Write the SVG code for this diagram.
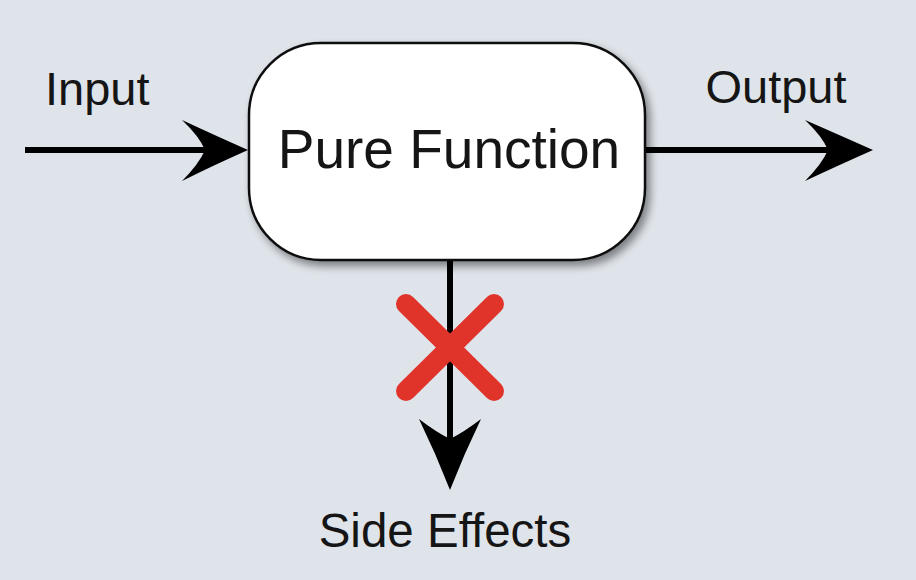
<svg xmlns="http://www.w3.org/2000/svg" width="916" height="580" viewBox="0 0 916 580">
<defs>
<style>
.lbl{font-family:"Liberation Sans",Arial,sans-serif;fill:#151515;}
.line{stroke:#000;stroke-width:6;fill:none;}
.head{fill:#000;}
</style>
<filter id="sh" x="-10%" y="-10%" width="125%" height="130%">
<feGaussianBlur in="SourceAlpha" stdDeviation="4"/>
<feOffset dx="4" dy="5" result="b"/>
<feComponentTransfer><feFuncA type="linear" slope="0.45"/></feComponentTransfer>
<feMerge><feMergeNode/><feMergeNode in="SourceGraphic"/></feMerge>
</filter>
</defs>
<rect width="916" height="580" fill="#dfe4ea"/>
<g id="connectors">
<line class="line" x1="25" y1="150" x2="215" y2="150"/>
<path class="head" d="M248,150 Q212,134 182,120 Q199,136 205,150 Q199,164 182,181 Q212,166 248,150 Z"/>
<line class="line" x1="645" y1="150" x2="840" y2="150"/>
<path class="head" d="M873,150 Q837,134 805,120 Q822,136 828,150 Q822,164 805,181 Q837,166 873,150 Z"/>
<line class="line" x1="450" y1="258" x2="450" y2="460"/>
<path class="head" d="M450,490 Q436,454 419,419 Q436,432 450,439 Q464,432 481,419 Q464,454 450,490 Z"/>
</g>
<g id="node-pure-function">
<rect x="249" y="43" width="396" height="217" rx="72" ry="72" fill="#fff" stroke="#111" stroke-width="2.5" filter="url(#sh)"/>
<text class="lbl" x="449" y="168" font-size="55" text-anchor="middle">Pure Function</text>
</g>
<g id="label-input"><text class="lbl" x="45" y="105" font-size="47">Input</text></g>
<g id="label-output"><text class="lbl" x="776" y="103" font-size="47" text-anchor="middle">Output</text></g>
<g id="label-side-effects"><text class="lbl" x="445" y="547" font-size="47.5" text-anchor="middle">Side Effects</text></g>
<g id="cross" stroke="#e0332a" stroke-width="20" stroke-linecap="round">
<line x1="406" y1="304" x2="494" y2="391"/>
<line x1="494" y1="304" x2="406" y2="391"/>
</g>
</svg>
